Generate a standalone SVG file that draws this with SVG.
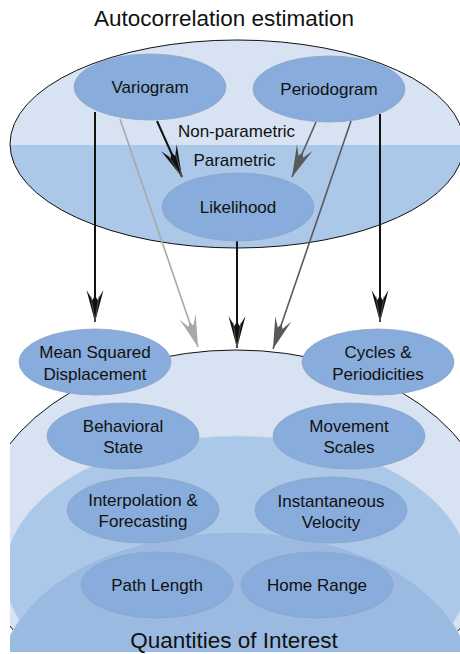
<svg xmlns="http://www.w3.org/2000/svg" width="460" height="654" viewBox="0 0 460 654">
<style>
text{font-family:"Liberation Sans",Arial,sans-serif;fill:#111;text-anchor:middle}
.t{font-size:17px}
.big{font-size:22.5px}
.node{fill:#88acdb;stroke:#8fa3c0;stroke-width:0.8}
.c{fill:none;stroke-linecap:butt}
.k{stroke:#111;stroke-width:2}
.lg{stroke:#a8a8a8;stroke-width:1.6}
.dg{stroke:#5a5a5a;stroke-width:1.6}
</style>
<defs>
<marker id="ak" markerUnits="userSpaceOnUse" markerWidth="40" markerHeight="24" viewBox="-34 -12 36 24" refX="0" refY="0" orient="auto">
<path d="M0,0 L-32,-8.5 L-22,-2.5 L-27,0 L-22,2.5 L-32,8.5 Z" fill="#111"/>
<path d="M0,0 L-26,-4 M0,0 L-26,4" stroke="#777" stroke-width="0.6" fill="none"/>
</marker>
<marker id="alg" markerUnits="userSpaceOnUse" markerWidth="40" markerHeight="24" viewBox="-34 -12 36 24" refX="0" refY="0" orient="auto">
<path d="M0,0 L-32,-8.5 L-22,-2.5 L-27,0 L-22,2.5 L-32,8.5 Z" fill="#a8a8a8"/>
</marker>
<marker id="adg" markerUnits="userSpaceOnUse" markerWidth="40" markerHeight="24" viewBox="-34 -12 36 24" refX="0" refY="0" orient="auto">
<path d="M0,0 L-32,-8.5 L-22,-2.5 L-27,0 L-22,2.5 L-32,8.5 Z" fill="#5a5a5a"/>
</marker>
<clipPath id="lowerHalf"><rect x="0" y="145" width="470" height="120"/></clipPath>
<clipPath id="frame"><rect x="10" y="0" width="450" height="652"/></clipPath>
</defs>

<g id="background">
<text class="big" x="224" y="26">Autocorrelation estimation</text>
<g id="autocorrelation-region">
<ellipse cx="237" cy="144" rx="227" ry="104" fill="#d7e2f3"/>
<ellipse cx="237" cy="144" rx="227" ry="104" fill="#abc8e9" clip-path="url(#lowerHalf)"/>
<ellipse cx="237" cy="144" rx="227" ry="104" fill="none" stroke="#111" stroke-width="1"/>
<text class="t" x="236.5" y="137">Non-parametric</text>
<text class="t" x="234.5" y="166">Parametric</text>
</g>
<g id="quantities-region" clip-path="url(#frame)">
<ellipse cx="236" cy="535" rx="260" ry="185" fill="#d7e2f3" stroke="#111" stroke-width="1"/>
<ellipse cx="237" cy="573" rx="232" ry="137" fill="#abc8e9" stroke="#c4d6ee" stroke-width="0.8"/>
<ellipse cx="235" cy="678" rx="235" ry="146" fill="#9bbae1" stroke="#b9cdea" stroke-width="0.8"/>
</g>
<text class="big" x="234" y="648">Quantities of Interest</text>
</g>

<g id="connectors">
<path class="c k" d="M95,112 L95,322" marker-end="url(#ak)"/>
<path class="c lg" d="M120,119 L198,347" marker-end="url(#alg)"/>
<path class="c k" d="M157,121 L182,177" marker-end="url(#ak)"/>
<path class="c dg" d="M316,122 L292,177" marker-end="url(#adg)"/>
<path class="c dg" d="M351,121 L273,349" marker-end="url(#adg)"/>
<path class="c k" d="M237,241 L237,348" marker-end="url(#ak)"/>
<path class="c k" d="M380,114 L380,322" marker-end="url(#ak)"/>
</g>

<g id="variogram"><ellipse class="node" cx="150" cy="87" rx="76" ry="33"/><text class="t" x="150" y="93">Variogram</text></g>
<g id="periodogram"><ellipse class="node" cx="329" cy="89" rx="76" ry="33"/><text class="t" x="329" y="95">Periodogram</text></g>
<g id="likelihood"><ellipse class="node" cx="238" cy="207" rx="76" ry="34"/><text class="t" x="238" y="213">Likelihood</text></g>

<g id="msd"><ellipse class="node" cx="95" cy="362" rx="76" ry="33"/><text class="t" x="95" y="358">Mean Squared</text><text class="t" x="95" y="380">Displacement</text></g>
<g id="cycles"><ellipse class="node" cx="378" cy="362" rx="76" ry="33"/><text class="t" x="378" y="358">Cycles &amp;</text><text class="t" x="378" y="380">Periodicities</text></g>
<g id="behavioral-state"><ellipse class="node" cx="123" cy="436" rx="76" ry="33"/><text class="t" x="123" y="432">Behavioral</text><text class="t" x="123" y="453">State</text></g>
<g id="movement-scales"><ellipse class="node" cx="349" cy="436" rx="76" ry="33"/><text class="t" x="349" y="432">Movement</text><text class="t" x="349" y="453">Scales</text></g>
<g id="interpolation"><ellipse class="node" cx="143" cy="510" rx="76" ry="33"/><text class="t" x="143" y="506">Interpolation &amp;</text><text class="t" x="143" y="527">Forecasting</text></g>
<g id="velocity"><ellipse class="node" cx="331" cy="510" rx="76" ry="33"/><text class="t" x="331" y="507">Instantaneous</text><text class="t" x="331" y="528">Velocity</text></g>
<g id="path-length"><ellipse class="node" cx="157" cy="585" rx="76" ry="33"/><text class="t" x="157" y="591">Path Length</text></g>
<g id="home-range"><ellipse class="node" cx="317" cy="585" rx="76" ry="33"/><text class="t" x="317" y="591">Home Range</text></g>
</svg>
